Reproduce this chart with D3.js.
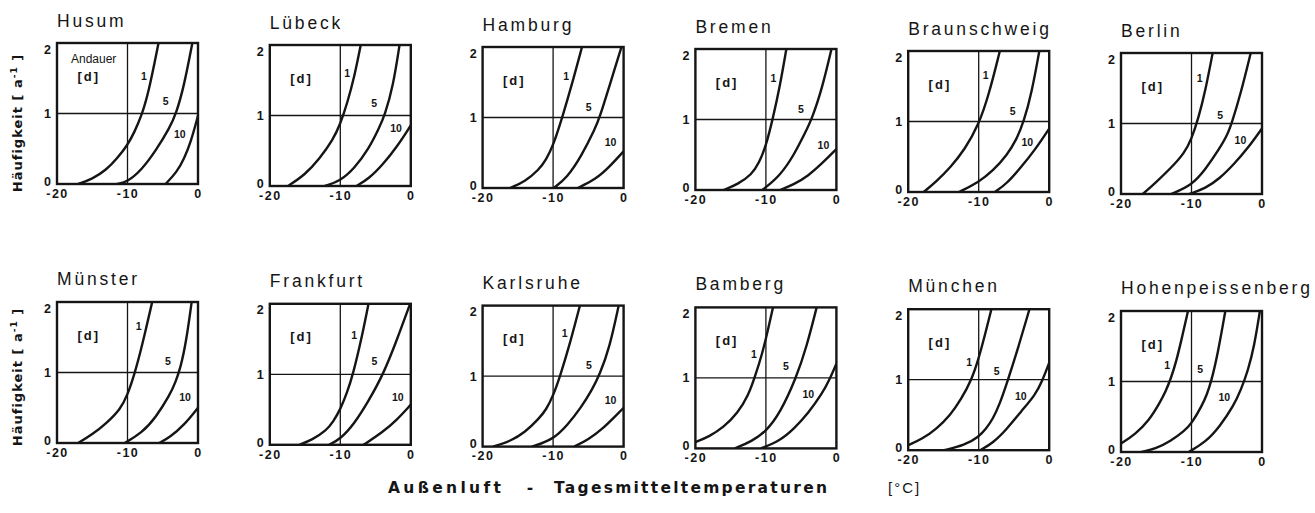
<!DOCTYPE html>
<html>
<head>
<meta charset="utf-8">
<script src="https://cdn.jsdelivr.net/npm/d3@7"></script>
<style>
    body { margin: 0; background: #fff; }
    svg { display: block; font-family: "Liberation Sans", Arial, sans-serif; }
</style>
</head>
<body>
<div id="chart"></div>
<script>
// stations, read row by row
const cities = ["Husum", "Lübeck", "Hamburg", "Bremen", "Braunschweig", "Berlin",
    "Münster", "Frankfurt", "Karlsruhe", "Bamberg", "München", "Hohenpeissenberg"];
const durations = ["1", "5", "10"];
const tempTicks = [-20, -10, 0];
const freqTicks = [0, 1, 2];

// each station: three curves (duration 1, 5, 10 days), points [temp °C, frequency a^-1]
const husum = [
    [[-17, 0], [-15, 0.07], [-13, 0.2], [-11.5, 0.36], [-10, 0.55], [-9, 0.74], [-8, 0.97], [-7, 1.3], [-5.6, 2]],
    [[-11.5, 0], [-10, 0.03], [-8, 0.2], [-6, 0.47], [-4, 0.8], [-3.1, 1], [-2, 1.38], [-0.8, 2]],
    [[-4.6, 0], [-3, 0.17], [-2, 0.35], [-1, 0.6], [0, 0.97]]
];
const luebeck = [
    [[-17.4, 0], [-15, 0.16], [-13, 0.38], [-11, 0.66], [-10, 0.88], [-9, 1.18], [-8, 1.55], [-7.1, 2]],
    [[-12.2, 0], [-10, 0.07], [-8, 0.25], [-6, 0.52], [-4.5, 0.82], [-3.7, 1], [-2.5, 1.42], [-1.6, 2]],
    [[-7.7, 0], [-6, 0.1], [-4, 0.3], [-2, 0.55], [0, 0.86]]
];
const hamburg = [
    [[-16.1, 0], [-14, 0.09], [-12, 0.26], [-11, 0.4], [-10, 0.6], [-8.7, 1], [-7.3, 1.48], [-5.9, 2]],
    [[-9.9, 0], [-8, 0.15], [-6, 0.45], [-4, 0.85], [-3.4, 1], [-2, 1.45], [-0.3, 2]],
    [[-6.5, 0], [-4, 0.12], [-2, 0.3], [0, 0.52]]
];
const bremen = [
    [[-16, 0], [-14, 0.08], [-12, 0.22], [-11, 0.38], [-10, 0.62], [-9, 1.02], [-8, 1.48], [-7.1, 2]],
    [[-10.5, 0], [-8, 0.2], [-6, 0.5], [-4.5, 0.8], [-3.5, 1], [-2, 1.45], [-0.7, 2]],
    [[-8, 0], [-6, 0.08], [-4, 0.2], [-2, 0.38], [0, 0.58]]
];
const braunschweig = [
    [[-17.8, 0], [-16, 0.15], [-14, 0.35], [-12, 0.6], [-10, 0.95], [-8.5, 1.4], [-7, 2]],
    [[-12.8, 0], [-10, 0.14], [-8, 0.3], [-6, 0.52], [-4.6, 0.75], [-3.6, 1], [-2.5, 1.4], [-1.4, 2]],
    [[-7.7, 0], [-6, 0.12], [-4, 0.35], [-2, 0.6], [0, 0.9]]
];
const berlin = [
    [[-16.9, 0], [-15, 0.17], [-13, 0.36], [-11, 0.58], [-10, 0.78], [-9, 1.08], [-8, 1.48], [-7, 2]],
    [[-12.9, 0], [-10, 0.12], [-8, 0.35], [-6, 0.65], [-5, 0.82], [-4.3, 1], [-3, 1.43], [-1.6, 2]],
    [[-10.3, 0], [-8, 0.08], [-6, 0.22], [-4, 0.42], [-2, 0.65], [0, 0.93]]
];
const muenster = [
    [[-17, 0], [-15, 0.12], [-13, 0.28], [-11, 0.48], [-10, 0.68], [-9, 0.98], [-8, 1.35], [-6.5, 2]],
    [[-10.4, 0], [-8, 0.14], [-6, 0.36], [-4, 0.68], [-3.2, 0.86], [-2.5, 1.06], [-1.7, 1.42], [-0.9, 2]],
    [[-5.5, 0], [-4, 0.08], [-2, 0.25], [0, 0.5]]
];
const frankfurt = [
    [[-15.8, 0], [-14, 0.07], [-12, 0.2], [-11, 0.33], [-10, 0.5], [-9, 0.75], [-8.2, 1], [-7, 1.5], [-6, 2]],
    [[-11.6, 0], [-10, 0.08], [-8, 0.3], [-6, 0.62], [-3.9, 1], [-2, 1.48], [-0.1, 2]],
    [[-6.7, 0], [-4, 0.18], [-2, 0.35], [0, 0.57]]
];
const karlsruhe = [
    [[-18.5, 0], [-16, 0.08], [-14, 0.2], [-12, 0.4], [-11, 0.52], [-10, 0.72], [-9, 1], [-7.5, 1.5], [-6.2, 2]],
    [[-13, 0], [-10, 0.1], [-8, 0.3], [-6, 0.56], [-4.5, 0.8], [-3.4, 1.02], [-2, 1.4], [-0.7, 2]],
    [[-7, 0], [-5, 0.1], [-3, 0.25], [-1, 0.45], [0, 0.55]]
];
const bamberg = [
    [[-20, 0.09], [-18, 0.17], [-16, 0.3], [-14, 0.5], [-12.5, 0.75], [-11.6, 1], [-10.5, 1.35], [-9.7, 1.68], [-9, 2]],
    [[-14.4, 0], [-12, 0.1], [-10, 0.24], [-8, 0.5], [-5.7, 1], [-4.2, 1.45], [-2.8, 2]],
    [[-10.7, 0], [-8, 0.11], [-6, 0.28], [-4, 0.5], [-2, 0.78], [-1, 0.97], [0, 1.2]]
];
const muenchen = [
    [[-20, 0.07], [-18, 0.16], [-16, 0.3], [-14, 0.5], [-12.5, 0.72], [-11, 1], [-10, 1.3], [-9, 1.68], [-8.2, 2]],
    [[-14.9, 0], [-12, 0.07], [-10, 0.19], [-9, 0.3], [-8, 0.44], [-7, 0.66], [-6, 0.95], [-4.5, 1.42], [-2.8, 2]],
    [[-9.8, 0], [-8, 0.1], [-6, 0.3], [-4, 0.55], [-2, 0.78], [-1, 0.98], [0, 1.24]]
];
const hohenpeissenberg = [
    [[-20, 0.12], [-18, 0.25], [-16, 0.45], [-14.5, 0.7], [-13.7, 0.85], [-12.9, 1.05], [-12.2, 1.27], [-11.4, 1.6], [-10.5, 2]],
    [[-17.1, 0], [-15, 0.05], [-13, 0.15], [-11, 0.3], [-10, 0.4], [-8.5, 0.66], [-7.8, 0.82], [-7.2, 1], [-6.3, 1.38], [-5.2, 2]],
    [[-10.4, 0], [-8, 0.14], [-6, 0.36], [-4, 0.66], [-3, 0.88], [-2, 1.15], [-1.1, 1.5], [-0.3, 2]]
];
const curveData = [husum, luebeck, hamburg, bremen, braunschweig, berlin,
    muenster, frankfurt, karlsruhe, bamberg, muenchen, hohenpeissenberg];

// height at which the "1", "5", "10" labels sit beside their curve
const labelLevels = [
    [1.53, 1.17, 0.7], [1.6, 1.17, 0.82], [1.59, 1.14, 0.65], [1.59, 1.14, 0.63],
    [1.65, 1.15, 0.71], [1.64, 1.12, 0.76], [1.66, 1.16, 0.65], [1.55, 1.18, 0.67],
    [1.6, 1.15, 0.65], [1.33, 1.16, 0.76], [1.24, 1.12, 0.76], [1.23, 1.17, 0.77]
];
const labelShift = [-8, -14, -13];

let width = 1315, height = 513;
let boxW = 141, boxH = 141;
let ink = '#151515';
let heavy = '"DejaVu Sans", "Liberation Sans", sans-serif';

let svg = d3.select('#chart').append('svg')
    .attr('width', width)
    .attr('height', height);

// temperature where a curve reaches a given frequency (linear between points)
function tempAt(points, level) {
    for (let k = 1; k < points.length; k++) {
        let a = points[k - 1], b = points[k];
        if (a[1] <= level && b[1] >= level) {
            return a[0] + (level - a[1]) / (b[1] - a[1]) * (b[0] - a[0]);
        }
    }
    return points[points.length - 1][0];
}

function drawPanel(i) {
    let row = Math.floor(i / 6), col = i % 6;
    let left = 57 + col * 212.8;
    let top = row === 0 ? 43 + col * 2 : 302 + col * 1.8;

    let x = d3.scaleLinear().domain([-20, 0]).range([0, boxW]);
    let y = d3.scaleLinear().domain([0, 2]).range([boxH, 0]);

    let g = svg.append('g')
        .attr('transform', 'translate(' + left + ',' + top + ')');

    g.append('clipPath').attr('id', 'clip' + i)
        .append('rect').attr('width', boxW).attr('height', boxH);

    // title
    g.append('text')
        .attr('x', 0)
        .attr('y', row === 0 ? -16 : -17)
        .attr('font-size', 17.5)
        .attr('letter-spacing', 2.8)
        .attr('fill', ink)
        .text(cities[i]);

    // -10 °C and 1/a guide lines
    g.append('line')
        .attr('x1', x(-10)).attr('x2', x(-10))
        .attr('y1', 0).attr('y2', boxH)
        .attr('stroke', ink).attr('stroke-width', 1.3);
    g.append('line')
        .attr('x1', 0).attr('x2', boxW)
        .attr('y1', y(1)).attr('y2', y(1))
        .attr('stroke', ink).attr('stroke-width', 1.3);

    let line = d3.line()
        .x(d => x(d[0]))
        .y(d => y(d[1]))
        .curve(d3.curveBasis);

    g.selectAll('.curve')
        .data(curveData[i])
        .enter().append('path')
        .attr('class', 'curve')
        .attr('clip-path', 'url(#clip' + i + ')')
        .attr('d', line)
        .attr('fill', 'none')
        .attr('stroke', ink)
        .attr('stroke-width', 2.4);

    // frame
    g.append('rect')
        .attr('width', boxW).attr('height', boxH)
        .attr('fill', 'none')
        .attr('stroke', ink)
        .attr('stroke-width', 2.4);

    // curve labels
    curveData[i].forEach((pts, k) => {
        let lv = labelLevels[i][k];
        g.append('text')
            .attr('x', x(tempAt(pts, lv)) + labelShift[k])
            .attr('y', y(lv))
            .attr('dy', '0.35em')
            .attr('text-anchor', 'middle')
            .attr('font-size', 10.5)
            .attr('font-weight', 'bold')
            .attr('fill', ink)
            .text(durations[k]);
    });

    g.append('text')
        .attr('x', x(-15.5))
        .attr('y', y(1.53))
        .attr('dy', '0.35em')
        .attr('text-anchor', 'middle')
        .attr('font-size', 13)
        .attr('font-weight', 'bold')
        .attr('letter-spacing', 2)
        .attr('fill', ink)
        .text('[d]');
    if (i === 0) {
        g.append('text')
            .attr('x', x(-14.8))
            .attr('y', y(1.78))
            .attr('dy', '0.35em')
            .attr('text-anchor', 'middle')
            .attr('font-size', 12)
            .attr('fill', ink)
            .text('Andauer');
    }

    // axes
    let xAxis = g.append('g')
        .attr('transform', 'translate(0,' + boxH + ')')
        .call(d3.axisBottom(x).tickValues(tempTicks).tickSize(0).tickPadding(5).tickFormat(d => String(d)));
    let yAxis = g.append('g')
        .call(d3.axisLeft(y).tickValues(freqTicks).tickSize(0).tickPadding(6).tickFormat(d => String(d)));
    [xAxis, yAxis].forEach(a => {
        a.attr('font-family', null).attr('font-size', null);
        a.select('.domain').remove();
        a.selectAll('text')
            .attr('font-size', 12.5)
            .attr('font-weight', 'bold')
            .attr('fill', ink);
    });
    xAxis.selectAll('text').attr('letter-spacing', 1.5);
    yAxis.selectAll('text').filter(d => d === 2).attr('dy', '0.8em');
    yAxis.selectAll('text').filter(d => d === 0).attr('dy', '0.1em');
}

cities.forEach((c, i) => drawPanel(i));

// y axis titles, one per row
[123, 377].forEach(cy => {
    let t = svg.append('text')
        .attr('transform', 'translate(22,' + cy + ') rotate(-90)')
        .attr('text-anchor', 'middle')
        .attr('font-family', heavy)
        .attr('font-size', 13)
        .attr('font-weight', 'bold')
        .attr('letter-spacing', 1)
        .attr('fill', ink);
    t.append('tspan').text('Häufigkeit [ a');
    t.append('tspan').attr('font-size', 9).attr('dy', -5).text('-1');
    t.append('tspan').attr('dy', 5).text(' ]');
});

// x axis title
svg.append('text')
    .attr('x', 388).attr('y', 493)
    .attr('font-family', heavy)
    .attr('font-size', 15.5).attr('font-weight', 'bold')
    .attr('textLength', 113).attr('lengthAdjust', 'spacing')
    .attr('fill', ink)
    .text('Außenluft');
svg.append('text')
    .attr('x', 530).attr('y', 493)
    .attr('text-anchor', 'middle')
    .attr('font-family', heavy)
    .attr('font-size', 15.5).attr('font-weight', 'bold')
    .attr('fill', ink)
    .text('-');
svg.append('text')
    .attr('x', 554).attr('y', 493)
    .attr('font-family', heavy)
    .attr('font-size', 15.5).attr('font-weight', 'bold')
    .attr('textLength', 273).attr('lengthAdjust', 'spacing')
    .attr('fill', ink)
    .text('Tagesmitteltemperaturen');
svg.append('text')
    .attr('x', 888).attr('y', 493)
    .attr('font-size', 15)
    .attr('letter-spacing', 2)
    .attr('fill', ink)
    .text('[°C]');
</script>
</body>
</html>
